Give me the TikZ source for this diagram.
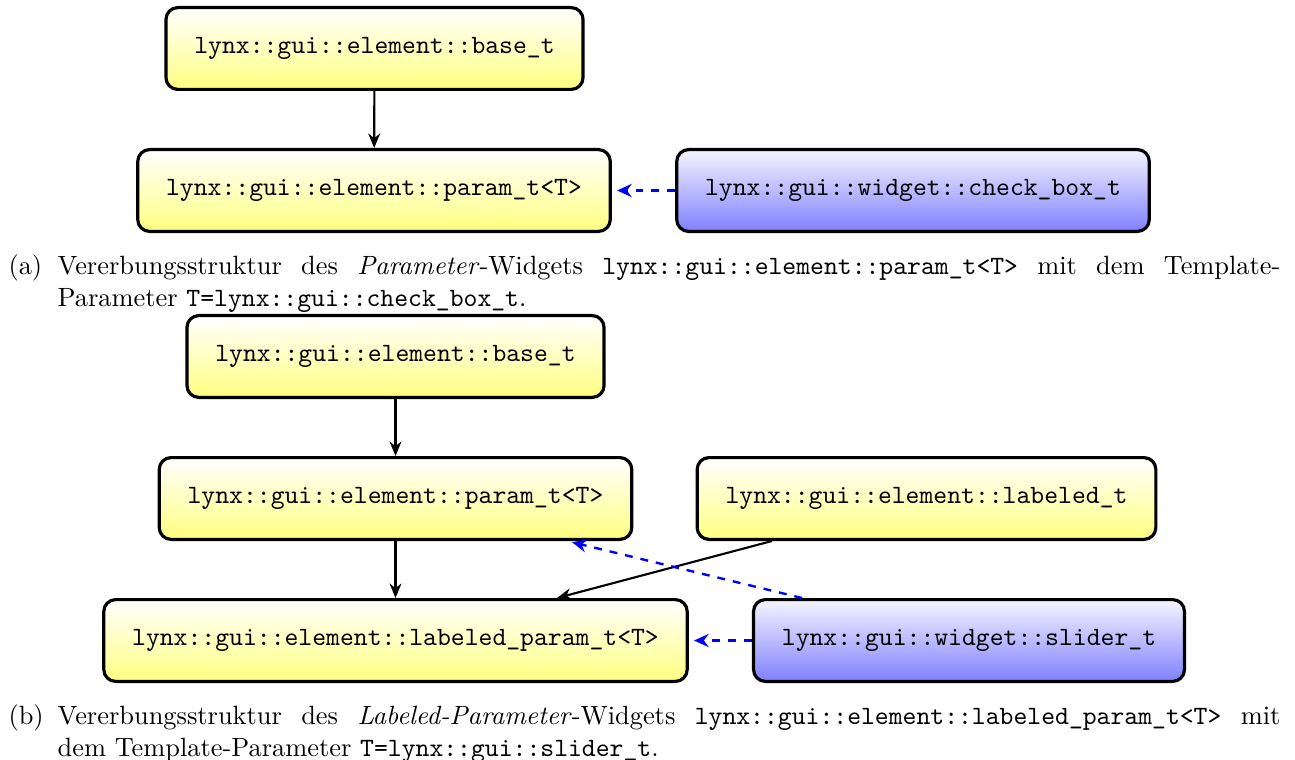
\documentclass[tikz,border=0pt]{standalone}
\usepackage{fontspec}
\usetikzlibrary{arrows.meta,calc}
\tikzset{
  cls/.style={draw=black, line width=1.2pt, rounded corners=4.5pt, font=\ttfamily,
    inner xsep=10.75pt, minimum height=31pt},
  ylw/.style={cls, top color=white, bottom color=yellow!50},
  blu/.style={cls, top color=blue!4, bottom color=blue!50},
  inh/.style={line width=0.8pt, -{Stealth[length=5.5pt,width=4.5pt]}},
  tpl/.style={blue, line width=0.9pt, dashed, shorten >=2pt, -{Stealth[length=5.5pt,width=5pt]}},
  captext/.style={anchor=north west, inner sep=0pt, font=\normalsize}
}
\newcommand{\capbody}[2]{\makebox[18.6pt][l]{#1}\parbox[t]{463.2pt}{#2}}
\begin{document}
\begin{tikzpicture}[x=0.3788pt,y=-0.3788pt]
\useasboundingbox (0,0) rectangle (1295,760);
% (a)
\node[ylw] (baseA) at (374.5,48.5) {lynx::gui::element::base\_t};
\node[ylw] (paramA) at (374,190.5) {lynx::gui::element::param\_t<T>};
\node[blu] (checkA) at (913,190.5) {lynx::gui::widget::check\_box\_t};
\draw[inh] (baseA) -- (paramA);
\draw[tpl] (checkA) -- (paramA);
\node[captext] (capA) at (8,254) {\capbody{(a)}{Vererbungsstruktur des \emph{Parameter}-Widgets \texttt{lynx::gui::element::param\_t<T>} mit dem Template-\linebreak Parameter \texttt{T=lynx::gui::check\_box\_t}.}};
% (b)
\node[ylw] (baseB) at (395.5,356.5) {lynx::gui::element::base\_t};
\node[ylw] (paramB) at (395.5,498.5) {lynx::gui::element::param\_t<T>};
\node[ylw] (labeledB) at (926.5,498.5) {lynx::gui::element::labeled\_t};
\node[ylw] (lparamB) at (395.5,640.5) {lynx::gui::element::labeled\_param\_t<T>};
\node[blu] (sliderB) at (969,640.5) {lynx::gui::widget::slider\_t};
\draw[inh] (baseB) -- (paramB);
\draw[inh] (paramB) -- (lparamB);
\draw[inh] ($(labeledB.south)+(-154.5,0)$) -- ($(lparamB.north)+(161.5,0)$);
\draw[tpl] ($(sliderB.north)+(-167,0)$) -- ($(paramB.south)+(171.5,0)$);
\draw[tpl] (sliderB) -- (lparamB);
\node[captext] (capB) at (8,704) {\capbody{(b)}{Vererbungsstruktur des \emph{Labeled-Parameter}-Widgets \texttt{lynx::gui::element::labeled\_param\_t<T>} mit\linebreak dem Template-Parameter \texttt{T=lynx::gui::slider\_t}.}};
\end{tikzpicture}
\end{document}
